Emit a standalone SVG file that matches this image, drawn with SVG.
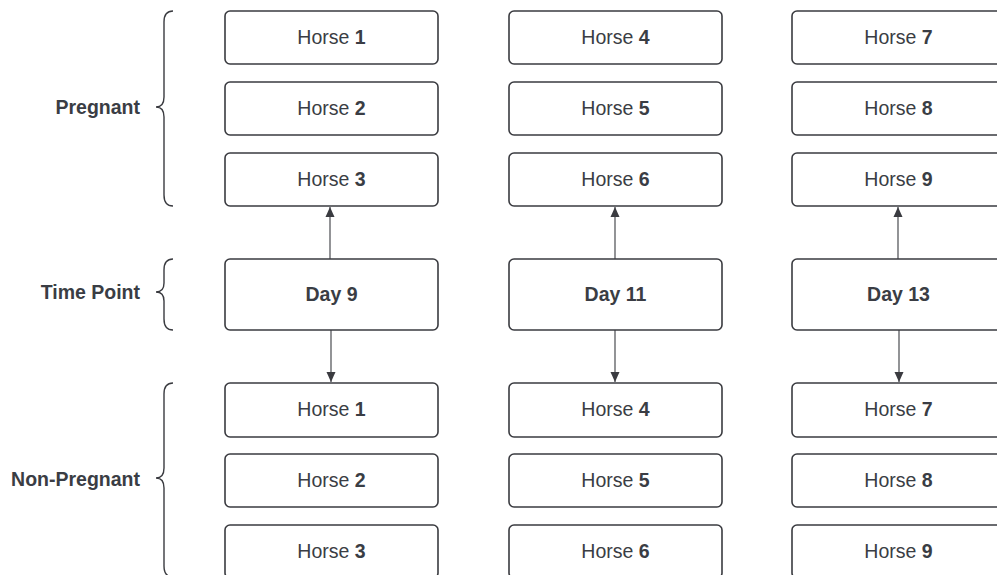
<svg xmlns="http://www.w3.org/2000/svg" width="997" height="575" viewBox="0 0 997 575">
  <style>
    .box { fill: #ffffff; stroke: #3a3b40; stroke-width: 1.6; }
    .t { font-family: "Liberation Sans", Arial, sans-serif; font-size: 19.5px; fill: #3a3d44; text-anchor: middle; }
    .b { font-weight: bold; }
    .lbl { font-family: "Liberation Sans", Arial, sans-serif; font-size: 19.5px; font-weight: bold; fill: #3a3d44; text-anchor: end; }
    .brace { fill: none; stroke: #3a3b40; stroke-width: 1.4; }
    .conn { stroke: #3a3b40; stroke-width: 1.1; fill: none; marker-end: url(#arrow); }
  </style>
  <defs>
    <marker id="arrow" viewBox="0 0 10 14" refX="10" refY="7" markerWidth="10" markerHeight="14" markerUnits="userSpaceOnUse" orient="auto">
      <path d="M0,2.5 L10,7 L0,11.5 Z" fill="#3a3b40"/>
    </marker>
  </defs>
  <rect width="997" height="575" fill="#ffffff"/>

  <!-- group labels with curly braces -->
  <g id="label-pregnant">
    <text class="lbl" x="140" y="114">Pregnant</text>
    <path class="brace" d="M173,11 Q164,11 164,22 L164,97 Q164,107 156,107 Q164,107 164,117 L164,195 Q164,206 173,206"/>
  </g>
  <g id="label-timepoint">
    <text class="lbl" x="140" y="299">Time Point</text>
    <path class="brace" d="M173,259 Q164,259 164,270 L164,283 Q164,292 156,292 Q164,292 164,301 L164,319 Q164,330 173,330"/>
  </g>
  <g id="label-nonpregnant">
    <text class="lbl" x="140" y="486">Non-Pregnant</text>
    <path class="brace" d="M173,383 Q164,383 164,394 L164,468 Q164,478 156,478 Q164,478 164,488 L164,566 Q164,577 173,577"/>
  </g>

  <!-- column 1 -->
  <g id="p-horse1"><rect class="box" x="225" y="11" width="213" height="53" rx="5"/><text class="t" x="331.5" y="44">Horse <tspan class="b">1</tspan></text></g>
  <g id="p-horse2"><rect class="box" x="225" y="82" width="213" height="53" rx="5"/><text class="t" x="331.5" y="115">Horse <tspan class="b">2</tspan></text></g>
  <g id="p-horse3"><rect class="box" x="225" y="153" width="213" height="53" rx="5"/><text class="t" x="331.5" y="186">Horse <tspan class="b">3</tspan></text></g>
  <g id="day9"><rect class="box" x="225" y="259" width="213" height="71" rx="5"/><text class="t b" x="331.5" y="301">Day 9</text></g>
  <g id="n-horse1"><rect class="box" x="225" y="383" width="213" height="54" rx="5"/><text class="t" x="331.5" y="416">Horse <tspan class="b">1</tspan></text></g>
  <g id="n-horse2"><rect class="box" x="225" y="454" width="213" height="53" rx="5"/><text class="t" x="331.5" y="487">Horse <tspan class="b">2</tspan></text></g>
  <g id="n-horse3"><rect class="box" x="225" y="525" width="213" height="53" rx="5"/><text class="t" x="331.5" y="558">Horse <tspan class="b">3</tspan></text></g>

  <!-- column 2 -->
  <g id="p-horse4"><rect class="box" x="509" y="11" width="213" height="53" rx="5"/><text class="t" x="615.5" y="44">Horse <tspan class="b">4</tspan></text></g>
  <g id="p-horse5"><rect class="box" x="509" y="82" width="213" height="53" rx="5"/><text class="t" x="615.5" y="115">Horse <tspan class="b">5</tspan></text></g>
  <g id="p-horse6"><rect class="box" x="509" y="153" width="213" height="53" rx="5"/><text class="t" x="615.5" y="186">Horse <tspan class="b">6</tspan></text></g>
  <g id="day11"><rect class="box" x="509" y="259" width="213" height="71" rx="5"/><text class="t b" x="615.5" y="301">Day 11</text></g>
  <g id="n-horse4"><rect class="box" x="509" y="383" width="213" height="54" rx="5"/><text class="t" x="615.5" y="416">Horse <tspan class="b">4</tspan></text></g>
  <g id="n-horse5"><rect class="box" x="509" y="454" width="213" height="53" rx="5"/><text class="t" x="615.5" y="487">Horse <tspan class="b">5</tspan></text></g>
  <g id="n-horse6"><rect class="box" x="509" y="525" width="213" height="53" rx="5"/><text class="t" x="615.5" y="558">Horse <tspan class="b">6</tspan></text></g>

  <!-- column 3 -->
  <g id="p-horse7"><rect class="box" x="792" y="11" width="213" height="53" rx="5"/><text class="t" x="898.5" y="44">Horse <tspan class="b">7</tspan></text></g>
  <g id="p-horse8"><rect class="box" x="792" y="82" width="213" height="53" rx="5"/><text class="t" x="898.5" y="115">Horse <tspan class="b">8</tspan></text></g>
  <g id="p-horse9"><rect class="box" x="792" y="153" width="213" height="53" rx="5"/><text class="t" x="898.5" y="186">Horse <tspan class="b">9</tspan></text></g>
  <g id="day13"><rect class="box" x="792" y="259" width="213" height="71" rx="5"/><text class="t b" x="898.5" y="301">Day 13</text></g>
  <g id="n-horse7"><rect class="box" x="792" y="383" width="213" height="54" rx="5"/><text class="t" x="898.5" y="416">Horse <tspan class="b">7</tspan></text></g>
  <g id="n-horse8"><rect class="box" x="792" y="454" width="213" height="53" rx="5"/><text class="t" x="898.5" y="487">Horse <tspan class="b">8</tspan></text></g>
  <g id="n-horse9"><rect class="box" x="792" y="525" width="213" height="53" rx="5"/><text class="t" x="898.5" y="558">Horse <tspan class="b">9</tspan></text></g>

  <!-- connectors -->
  <g id="connectors">
    <line class="conn" x1="330" y1="259" x2="330" y2="207"/>
    <line class="conn" x1="331" y1="330" x2="331" y2="382"/>
    <line class="conn" x1="615" y1="259" x2="615" y2="207"/>
    <line class="conn" x1="615" y1="330" x2="615" y2="382"/>
    <line class="conn" x1="898" y1="259" x2="898" y2="207"/>
    <line class="conn" x1="899" y1="330" x2="899" y2="382"/>
  </g>
</svg>
